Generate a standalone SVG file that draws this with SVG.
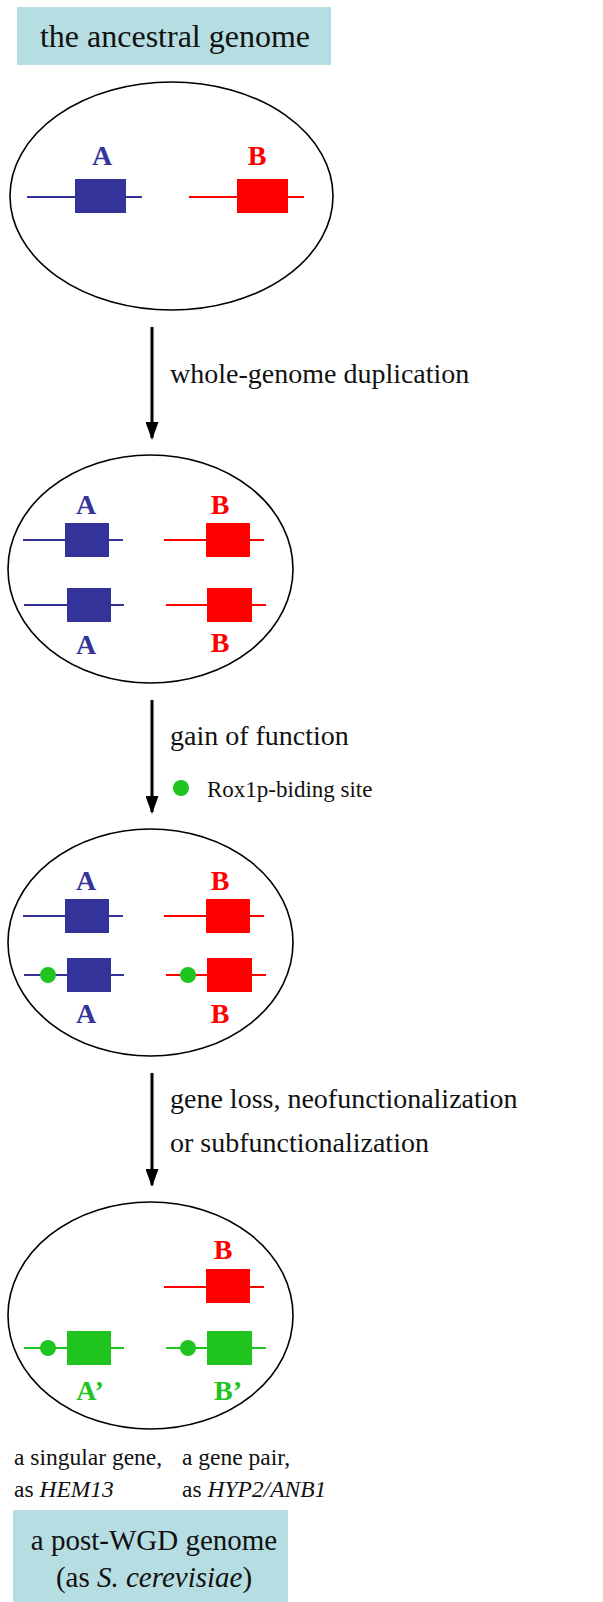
<svg xmlns="http://www.w3.org/2000/svg" width="603" height="1602" viewBox="0 0 603 1602">
<defs>
<style>
.t{font-family:"Liberation Serif","Times New Roman",serif;fill:#111}
.lbl{font-family:"Liberation Serif","Times New Roman",serif;font-weight:bold;font-size:28px;text-anchor:middle}
.cell{fill:#fff;stroke:#000;stroke-width:1.6}
.bl{stroke:#333399;stroke-width:2;fill:none}
.rl{stroke:#ff0000;stroke-width:2;fill:none}
.gl{stroke:#1fc41f;stroke-width:2;fill:none}
.bb{fill:#333399}
.rb{fill:#ff0000}
.gb{fill:#1fc41f}
.box{fill:#b6dde1}
.arr{stroke:#000;stroke-width:3;fill:none}
</style>
<marker id="ah" viewBox="0 0 18 13" refX="16" refY="6.5" markerWidth="18" markerHeight="13" markerUnits="userSpaceOnUse" orient="auto">
<path d="M0,0 L18,6.5 L0,13 z" fill="#000"/>
</marker>
</defs>

<g id="title-top">
<rect class="box" x="17" y="7" width="314" height="58"/>
<text class="t" x="175" y="47" font-size="32" text-anchor="middle">the ancestral genome</text>
</g>

<g id="genome-ancestral">
<ellipse class="cell" cx="171.5" cy="196" rx="161.5" ry="114"/>
<line class="bl" x1="27" y1="197" x2="142" y2="197"/>
<rect class="bb" x="75" y="179" width="51" height="34"/>
<text class="lbl" x="102" y="165" fill="#333399">A</text>
<line class="rl" x1="189" y1="197" x2="304" y2="197"/>
<rect class="rb" x="237" y="179" width="51" height="34"/>
<text class="lbl" x="257" y="165" fill="#ff0000">B</text>
</g>

<g id="genome-duplicated">
<ellipse class="cell" cx="150.5" cy="569" rx="142.5" ry="114"/>
<line class="bl" x1="23" y1="540" x2="123" y2="540"/>
<rect class="bb" x="65" y="523" width="44" height="34"/>
<text class="lbl" x="86" y="514" fill="#333399">A</text>
<line class="rl" x1="164" y1="540" x2="264" y2="540"/>
<rect class="rb" x="206" y="523" width="44" height="34"/>
<text class="lbl" x="220" y="514" fill="#ff0000">B</text>
<line class="bl" x1="24" y1="605" x2="124" y2="605"/>
<rect class="bb" x="67" y="588" width="44" height="34"/>
<text class="lbl" x="86" y="654" fill="#333399">A</text>
<line class="rl" x1="166" y1="605" x2="266" y2="605"/>
<rect class="rb" x="207" y="588" width="45" height="34"/>
<text class="lbl" x="220" y="652" fill="#ff0000">B</text>
</g>

<g id="genome-gain">
<ellipse class="cell" cx="150.5" cy="942.5" rx="142.5" ry="113.5"/>
<line class="bl" x1="23" y1="916" x2="123" y2="916"/>
<rect class="bb" x="65" y="899" width="44" height="34"/>
<text class="lbl" x="86" y="890" fill="#333399">A</text>
<line class="rl" x1="164" y1="916" x2="264" y2="916"/>
<rect class="rb" x="206" y="899" width="44" height="34"/>
<text class="lbl" x="220" y="890" fill="#ff0000">B</text>
<line class="bl" x1="24" y1="975" x2="124" y2="975"/>
<rect class="bb" x="67" y="958" width="44" height="34"/>
<circle class="gb" cx="48" cy="975" r="8"/>
<text class="lbl" x="86" y="1023" fill="#333399">A</text>
<line class="rl" x1="166" y1="975" x2="266" y2="975"/>
<rect class="rb" x="207" y="958" width="45" height="34"/>
<circle class="gb" cx="188" cy="975" r="8"/>
<text class="lbl" x="220" y="1023" fill="#ff0000">B</text>
</g>

<g id="genome-post">
<ellipse class="cell" cx="150.5" cy="1315.5" rx="142.5" ry="113.5"/>
<line class="rl" x1="164" y1="1287" x2="264" y2="1287"/>
<rect class="rb" x="206" y="1269" width="44" height="34"/>
<text class="lbl" x="223" y="1259" fill="#ff0000">B</text>
<line class="gl" x1="24" y1="1348" x2="124" y2="1348"/>
<rect class="gb" x="67" y="1331" width="44" height="34"/>
<circle class="gb" cx="48" cy="1348" r="8"/>
<text class="lbl" x="90" y="1400" fill="#1fc41f">A’</text>
<line class="gl" x1="166" y1="1348" x2="266" y2="1348"/>
<rect class="gb" x="207" y="1331" width="45" height="34"/>
<circle class="gb" cx="188" cy="1348" r="8"/>
<text class="lbl" x="228" y="1400" fill="#1fc41f">B’</text>
</g>

<g id="connectors">
<line class="arr" x1="152" y1="327" x2="152" y2="438" marker-end="url(#ah)"/>
<line class="arr" x1="152" y1="700" x2="152" y2="812" marker-end="url(#ah)"/>
<line class="arr" x1="152" y1="1073" x2="152" y2="1185" marker-end="url(#ah)"/>
</g>

<g id="step-labels">
<text class="t" x="170" y="383" font-size="28">whole-genome duplication</text>
<text class="t" x="170" y="745" font-size="28">gain of function</text>
<circle class="gb" cx="181" cy="788" r="8"/>
<text class="t" x="207" y="797" font-size="23">Rox1p-biding site</text>
<text class="t" x="170" y="1108" font-size="28">gene loss, neofunctionalization</text>
<text class="t" x="170" y="1152" font-size="28">or subfunctionalization</text>
</g>

<g id="gene-notes">
<text class="t" x="14" y="1465" font-size="23.5">a singular gene,</text>
<text class="t" x="14" y="1497" font-size="23.5">as <tspan font-style="italic">HEM13</tspan></text>
<text class="t" x="182" y="1465" font-size="23.5">a gene pair,</text>
<text class="t" x="182" y="1497" font-size="23.5">as <tspan font-style="italic">HYP2/ANB1</tspan></text>
</g>

<g id="title-bottom">
<rect class="box" x="13" y="1510" width="275" height="92"/>
<text class="t" x="154" y="1550" font-size="29" text-anchor="middle">a post-WGD genome</text>
<text class="t" x="154" y="1587" font-size="29" text-anchor="middle">(as <tspan font-style="italic">S. cerevisiae</tspan>)</text>
</g>
</svg>
